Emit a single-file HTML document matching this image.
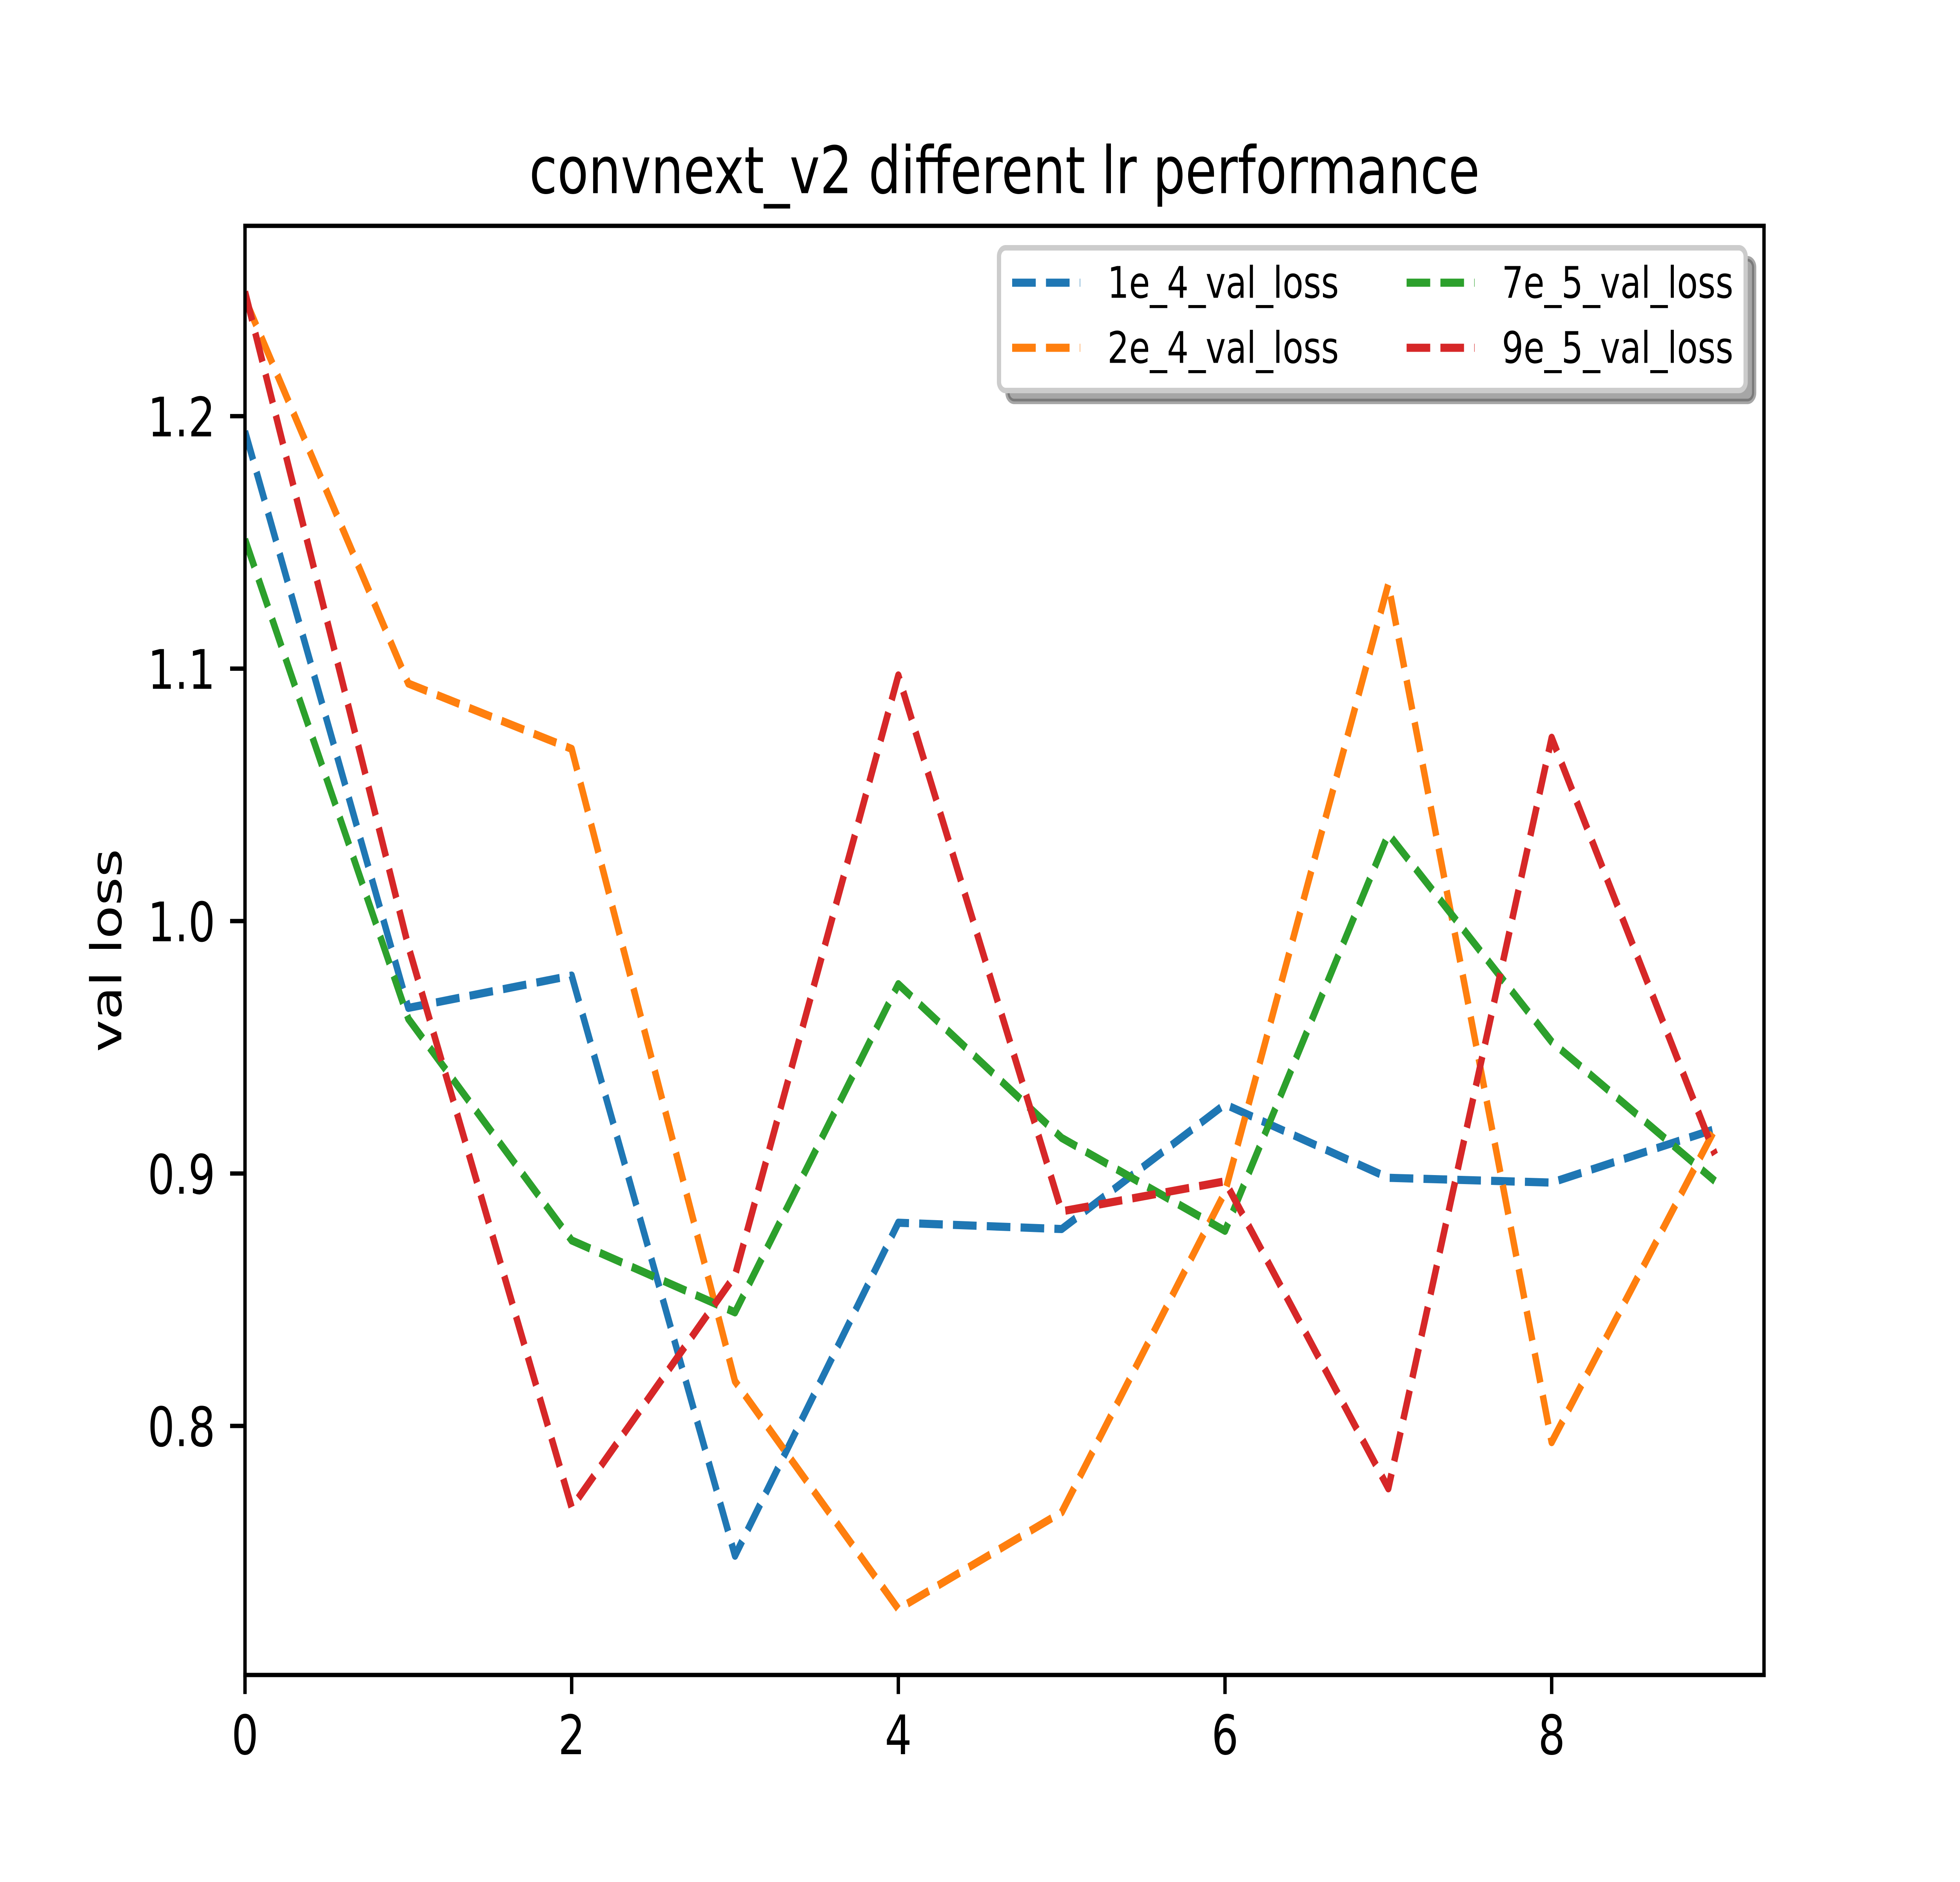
<!DOCTYPE html>
<html lang="en">
<head>
<meta charset="utf-8">
<title>convnext_v2 different lr performance</title>
<style>
html,body{margin:0;padding:0;background:#fff;width:100%;height:100%;overflow:hidden;}
svg{display:block;width:100vw;height:100vh;}
text{font-family:"DejaVu Sans","Liberation Sans",sans-serif;fill:#000;text-rendering:geometricPrecision;}
</style>
</head>
<body>
<svg id="chart" xmlns="http://www.w3.org/2000/svg" viewBox="0 0 6400 4800" preserveAspectRatio="none">
  <rect x="0" y="0" width="6400" height="4800" fill="#ffffff"/>
  <defs>
    <clipPath id="axes-clip"><rect x="800" y="576" width="4960" height="3696"/></clipPath>
  </defs>
  <rect x="800" y="576" width="4960" height="3696" fill="#ffffff"/>
  <g id="series-layer" clip-path="url(#axes-clip)"></g>
  <g id="tick-layer"></g>
  <g stroke="#000" stroke-width="11.11" stroke-linecap="square" fill="none">
    <line x1="800" y1="576" x2="800" y2="4272"/>
    <line x1="5760" y1="576" x2="5760" y2="4272"/>
    <line x1="800" y1="576" x2="5760" y2="576"/>
    <line x1="800" y1="4272" x2="5760" y2="4272"/>
  </g>
  <text x="3280" y="492.6" font-size="166.67" text-anchor="middle">convnext_v2 different lr performance</text>
  <text transform="translate(396 2424) rotate(-90)" x="0" y="0" font-size="138.89" text-anchor="middle">val loss</text>
  <g>
    <rect x="3289.8" y="659.8" width="2438" height="364" rx="22" ry="22" fill="#4d4d4d" fill-opacity="0.5" stroke="#4d4d4d" stroke-opacity="0.5" stroke-width="13.89"/>
    <rect x="3262" y="632" width="2438" height="364" rx="22" ry="22" fill="#ffffff" stroke="#cccccc" stroke-width="13.89"/>
    <g>
      <line x1="3305" y1="721" x2="3527.2" y2="721" stroke="#1f77b4" stroke-width="20.83" stroke-dasharray="77.08 33.33"/>
      <text x="3616" y="759.5" font-size="111.11">1e_4_val_loss</text>
    </g>
    <g>
      <line x1="3305" y1="887" x2="3527.2" y2="887" stroke="#ff7f0e" stroke-width="20.83" stroke-dasharray="77.08 33.33"/>
      <text x="3616" y="925.6" font-size="111.11">2e_4_val_loss</text>
    </g>
    <g>
      <line x1="4593" y1="721" x2="4815.2" y2="721" stroke="#2ca02c" stroke-width="20.83" stroke-dasharray="77.08 33.33"/>
      <text x="4904" y="759.5" font-size="111.11">7e_5_val_loss</text>
    </g>
    <g>
      <line x1="4593" y1="887" x2="4815.2" y2="887" stroke="#d62728" stroke-width="20.83" stroke-dasharray="77.08 33.33"/>
      <text x="4904" y="925.6" font-size="111.11">9e_5_val_loss</text>
    </g>
  </g>
</svg>
<script>
var epochs = [0, 1, 2, 3, 4, 5, 6, 7, 8, 9];
var loss1e4 = [1.194, 0.9656, 0.9784, 0.7486, 0.8805, 0.878, 0.9274, 0.8983, 0.8964, 0.9176];
var loss2e4 = [1.2465, 1.0941, 1.0682, 0.8177, 0.7275, 0.7658, 0.8926, 1.1335, 0.7936, 0.9176];
var loss7e5 = [1.1512, 0.9613, 0.8735, 0.845, 0.975, 0.9141, 0.8773, 1.0345, 0.9522, 0.897];
var loss9e5 = [1.2493, 0.99, 0.7677, 0.8596, 1.0973, 0.885, 0.8969, 0.7753, 1.0726, 0.9075];
var xTickValues = [0, 2, 4, 6, 8];
var xTickLabels = ['0', '2', '4', '6', '8'];
var yTickValues = [0.8, 0.9, 1.0, 1.1, 1.2];
var yTickLabels = ['0.8', '0.9', '1.0', '1.1', '1.2'];

var SVG_NS = 'http://www.w3.org/2000/svg';
var plotLeft = 800, plotRight = 5760, plotTop = 576, plotBottom = 4272;
var xMin = 0, xMax = 9.3, yMin = 0.70135, yMax = 1.27540;

function xScale(v) {
  return plotLeft + (v - xMin) / (xMax - xMin) * (plotRight - plotLeft);
}
function yScale(v) {
  return plotBottom - (v - yMin) / (yMax - yMin) * (plotBottom - plotTop);
}
function make(tag, attrs) {
  var el = document.createElementNS(SVG_NS, tag);
  for (var k in attrs) { el.setAttribute(k, attrs[k]); }
  return el;
}

var seriesLayer = document.getElementById('series-layer');
var tickLayer = document.getElementById('tick-layer');

function drawSeries(values, color, name) {
  var d = values.map(function (v, i) {
    return (i ? 'L' : 'M') + xScale(epochs[i]).toFixed(2) + ' ' + yScale(v).toFixed(2);
  }).join(' ');
  var el = make('path', {
    d: d, fill: 'none', stroke: color, 'stroke-width': 20.83,
    'stroke-dasharray': '77.08 33.33', 'stroke-linecap': 'butt', 'stroke-linejoin': 'round'
  });
  
  
  seriesLayer.appendChild(el);
}
drawSeries(loss1e4, '#1f77b4', 'series-1e-4-val-loss');
drawSeries(loss2e4, '#ff7f0e', 'series-2e-4-val-loss');
drawSeries(loss7e5, '#2ca02c', 'series-7e-5-val-loss');
drawSeries(loss9e5, '#d62728', 'series-9e-5-val-loss');

xTickValues.forEach(function (v, i) {
  var x = xScale(v);
  var tick = make('line', { x1: x, y1: plotBottom, x2: x, y2: plotBottom + 48.6, stroke: '#000', 'stroke-width': 11.11 });
  
  
  tickLayer.appendChild(tick);
  var label = make('text', { x: x, y: 4474, 'font-size': 138.89, 'text-anchor': 'middle' });
  label.textContent = xTickLabels[i];
  
  
  tickLayer.appendChild(label);
});

yTickValues.forEach(function (v, i) {
  var y = yScale(v);
  var tick = make('line', { x1: plotLeft, y1: y, x2: plotLeft - 48.6, y2: y, stroke: '#000', 'stroke-width': 11.11 });
  
  
  tickLayer.appendChild(tick);
  var label = make('text', { x: 703, y: y + 51.5, 'font-size': 138.89, 'text-anchor': 'end' });
  label.textContent = yTickLabels[i];
  
  
  tickLayer.appendChild(label);
});
</script>
</body>
</html>
